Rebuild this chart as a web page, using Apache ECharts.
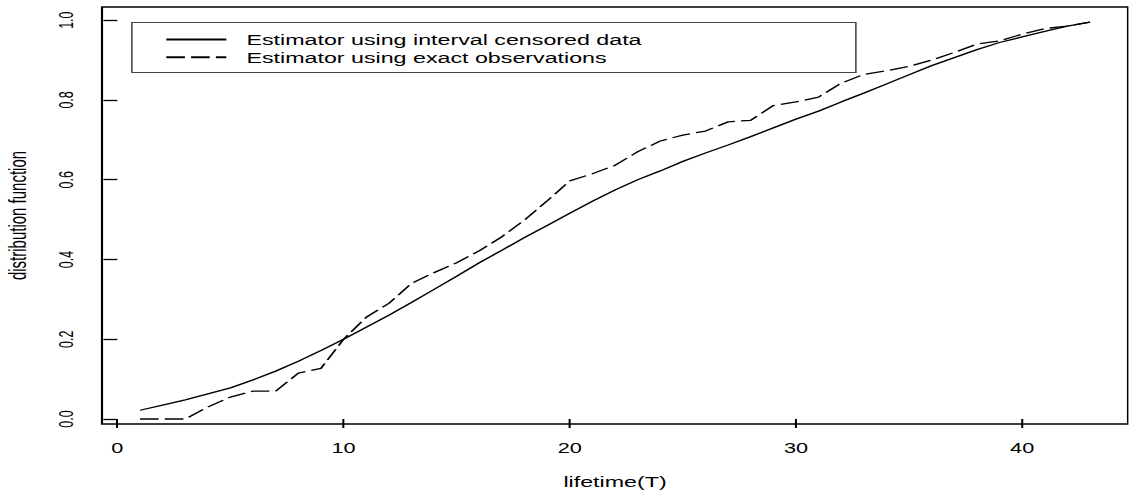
<!DOCTYPE html>
<html>
<head>
<meta charset="utf-8">
<script src="https://cdn.jsdelivr.net/npm/echarts@6/dist/echarts.min.js"></script>
<style>
html,body{margin:0;padding:0;background:#fff;overflow:hidden;width:1129px;height:495px;}
#c{position:absolute;left:0;top:0;height:495px;transform-origin:0 0;}
</style>
</head>
<body>
<div id="c"></div>
<script>
// ---- data ----
const lifetime = [1,2,3,4,5,6,7,8,9,10,11,12,13,14,15,16,17,18,19,20,21,22,23,24,25,26,27,28,29,30,31,32,33,34,35,36,37,38,39,40,41,42,43];
const intervalCensored = [0.022,0.035,0.048,0.063,0.078,0.098,0.120,0.145,0.172,0.200,0.230,0.260,0.292,0.325,0.358,0.392,0.423,0.455,0.485,0.516,0.546,0.574,0.600,0.622,0.646,0.667,0.687,0.708,0.730,0.752,0.772,0.795,0.817,0.840,0.863,0.886,0.906,0.926,0.944,0.958,0.972,0.985,0.995];
const exactObs = [0,0,0,0.030,0.055,0.070,0.070,0.115,0.127,0.200,0.255,0.290,0.340,0.367,0.392,0.422,0.457,0.499,0.547,0.597,0.615,0.636,0.670,0.697,0.712,0.722,0.745,0.749,0.786,0.795,0.807,0.842,0.864,0.873,0.884,0.900,0.919,0.940,0.948,0.965,0.979,0.985,0.995];
const xTicks = [0,10,20,30,40];
const yTicks = [0,0.2,0.4,0.6,0.8,1.0];
const seriesNames = ['Estimator using interval censored data','Estimator using exact observations'];

// ---- layout (horizontal stretch like the reference) ----
const S = 1.55;
const W = 1129;
const el = document.getElementById('c');
el.style.width = (W / S) + 'px';
el.style.transform = 'scaleX(' + S + ')';
const FONT = "'Liberation Sans', Arial, sans-serif";

const chart = echarts.init(el, null, {renderer: 'svg', width: W / S, height: 495});
const pair = (xs, ys) => xs.map((x, i) => [x, ys[i]]);

chart.setOption({
  animation: false,
  backgroundColor: '#fff',
  grid: {
    show: true, borderColor: '#000', borderWidth: 1.4,
    left: 102 / S, right: 1 / S, top: 7, bottom: 71,
    containLabel: false, outerBoundsMode: 'none'
  },
  xAxis: {
    type: 'value', min: -0.68, max: 44.68,
    name: 'lifetime(T)', nameLocation: 'middle', nameGap: 50,
    nameTextStyle: {color: '#000', fontSize: 15, fontFamily: FONT},
    axisLine: {show: false},
    splitLine: {show: false},
    axisTick: {show: true, length: 9, lineStyle: {color: '#000', width: 1.3}, customValues: xTicks},
    axisLabel: {color: '#000', fontSize: 14, fontFamily: FONT, margin: 17, customValues: xTicks}
  },
  yAxis: {
    type: 'value', min: -0.0125, max: 1.033,
    name: 'distribution function', nameLocation: 'middle', nameRotate: 90, nameGap: 47,
    nameTextStyle: {color: '#000', fontSize: 15, fontFamily: FONT},
    axisLine: {show: false},
    splitLine: {show: false},
    axisTick: {show: true, length: 9, lineStyle: {color: '#000', width: 1.3}, customValues: yTicks},
    axisLabel: {color: '#000', fontSize: 12.5, fontFamily: FONT, rotate: 90, margin: 17,
      customValues: yTicks, formatter: v => v.toFixed(1)}
  },
  legend: {
    orient: 'vertical', left: 157 / S, top: 27,
    itemWidth: 60 / S, itemHeight: 14, itemGap: 2.7,
    itemStyle: {opacity: 0},
    textStyle: {color: '#000', fontSize: 15, fontFamily: FONT, padding: [0, 0, 0, 8]},
    data: seriesNames
  },
  graphic: [{
    type: 'rect', left: 128 / S, top: 20, z: 0,
    shape: {width: 724 / S, height: 50},
    style: {fill: 'none', stroke: '#444', lineWidth: 1}
  }],
  series: [
    {
      name: seriesNames[0], type: 'line', symbol: 'none',
      itemStyle: {color: '#000'},
      lineStyle: {color: '#000', width: 1.3, type: 'solid'},
      data: pair(lifetime, intervalCensored)
    },
    {
      name: seriesNames[1], type: 'line', symbol: 'none',
      itemStyle: {color: '#000'},
      lineStyle: {color: '#000', width: 1.3, type: [12, 4]},
      data: pair(lifetime, exactObs)
    }
  ]
});
</script>
</body>
</html>
